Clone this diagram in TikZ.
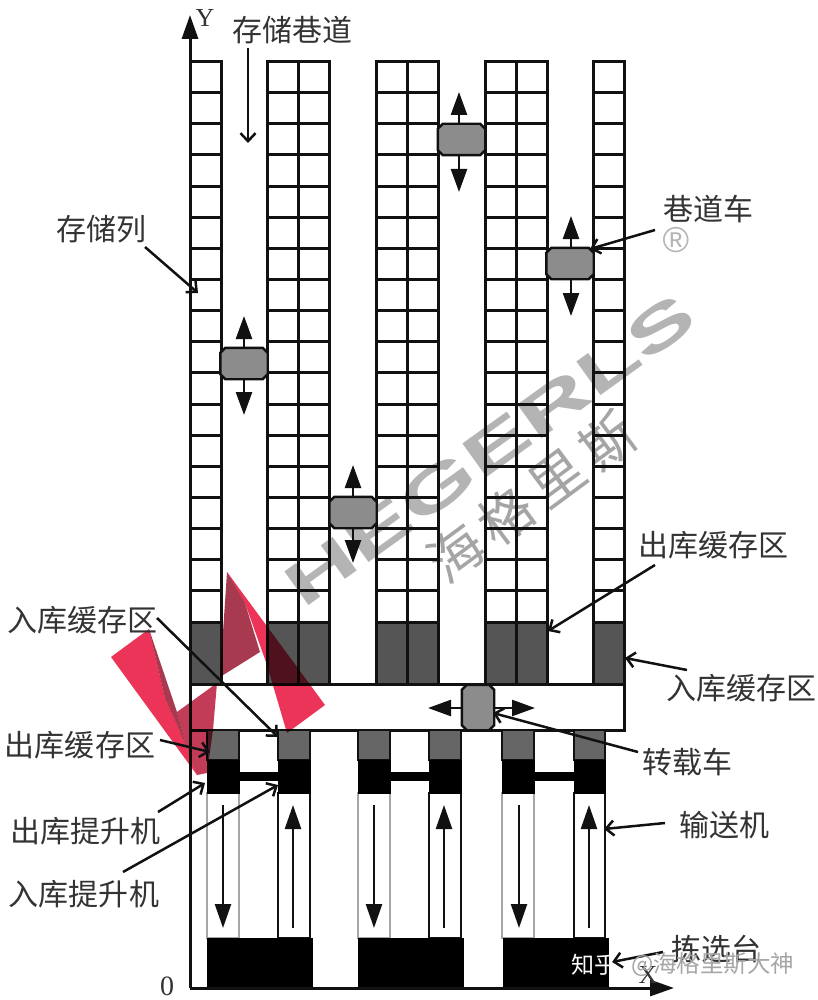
\documentclass[tikz,border=0pt]{standalone}
\usepackage{fontspec}
\usepackage{graphicx}
\usetikzlibrary{arrows.meta,calc}
\setmainfont{Liberation Serif}
\newfontfamily\cjk{Noto Sans CJK SC}
\newfontfamily\wmfont{Liberation Sans}
\definecolor{ink}{HTML}{111111}
\definecolor{txt}{HTML}{333333}
\definecolor{darkbuf}{HTML}{555555}
\definecolor{midbuf}{HTML}{666666}
\definecolor{carfill}{HTML}{8C8C8C}
\definecolor{wm}{HTML}{B4B4B4}
\definecolor{logoa}{HTML}{EC3358}
\definecolor{logob}{HTML}{A83A50}
\definecolor{logoc}{HTML}{C23C58}
\tikzset{
  cell/.style={draw=ink,line width=3pt},
  bufdark/.style={draw=ink,line width=3pt,fill=darkbuf},
  bufmid/.style={draw=ink,line width=2.4pt,fill=midbuf},
  lift/.style={fill=black,draw=black,line width=1pt},
  beltout/.style={draw=gray!70,line width=2.2pt},
  beltin/.style={draw=ink,line width=2.4pt},
  carbase/.style={rectangle,inner sep=0pt},
  hcar/.style={carbase,minimum width=47pt,minimum height=31pt},
  vcar/.style={carbase,minimum width=32pt,minimum height=45pt},
  carbody/.style={draw=ink,line width=2.4pt,fill=carfill},
  dirarrow/.style={draw=ink,line width=2.4pt,-{Triangle[length=23pt,width=16pt]}},
  flow/.style={draw=ink,line width=2.4pt,-{Triangle[length=24pt,width=16pt]}},
  leader/.style={draw=ink,line width=2.5pt,-{Straight Barb[length=8pt,width=15pt]}},
  lab/.style={font=\cjk\fontsize{30}{30}\selectfont,text=txt,inner sep=0pt},
  axislab/.style={font=\fontsize{26}{26}\selectfont,text=txt,inner sep=0pt},
  axisline/.style={draw=ink,line width=3pt},
  logolight/.style={fill=logoa},
  logodark/.style={fill=logob},
  logomid/.style={fill=logoc}
}
\begin{document}
\begin{tikzpicture}[x=1pt,y=-1pt]
\useasboundingbox (0,0) rectangle (818,1000);
\fill[white] (0,0) rectangle (818,1000);
% watermarks, under the line work
\node[rotate=35.7,text=wm,inner sep=0pt] (wmlatin) at (490,450) {\resizebox{488pt}{42pt}{\wmfont\bfseries HEGERLS}};
\node[rotate=36.5,text=wm!92!black,inner sep=0pt,font=\cjk\fontsize{54}{54}\selectfont] (wmcjk) at (532,497) {海\hspace{9pt}格\hspace{9pt}里\hspace{9pt}斯};
\node[text=wm,inner sep=0pt,font=\wmfont\fontsize{36}{36}\selectfont] (wmreg) at (676,240) {®};
% storage racks
\foreach \a/\b in {190/221,267/298,298/329,376/407,407/438,485/516,516/547,593/624}{
  \foreach \r in {0,...,17}{
    \draw[cell] (\a,{61.5+31.14*\r}) rectangle (\b,{61.5+31.14*(\r+1)});
  }
  \draw[bufdark] (\a,622) rectangle (\b,684);
}
% transfer aisle
\draw[cell] (190,684) rectangle (624,730);
% conveyors
\foreach \a/\b in {207/239,358/390,502/534}{\draw[beltout] (\a,793) rectangle (\b,938);}
\foreach \a/\b in {278/310,429/461,574/605}{\draw[beltin] (\a,793) rectangle (\b,938);}
% buffers, lifts, links
\foreach \a/\b in {207/239,278/310,358/390,429/461,502/534,574/605}{
  \draw[bufmid] (\a,730) rectangle (\b,760);
  \draw[lift] (\a,760) rectangle (\b,793);
}
\fill[black] (239,772) rectangle (278,781);
\fill[black] (390,772) rectangle (429,781);
\fill[black] (534,772) rectangle (574,781);
% pick stations
\draw[lift] (207,938) rectangle (312,988);
\draw[lift] (358,938) rectangle (463,988);
\draw[lift] (503,938) rectangle (608,988);
% flow arrows
\foreach \n/\x/\s/\e in {f1/223/805/928,f3/374/805/928,f5/519/805/928,f2/293/928/805,f4/444/928/805,f6/589/928/805}{
  \coordinate (\n s) at (\x,\s);
  \coordinate (\n e) at (\x,\e);
  \draw[flow] (\n s) -- (\n e);
}
% axes
\coordinate (origin) at (190,988);
\coordinate (ytip) at (190,15);
\coordinate (xtip) at (674,988);
\draw[axisline,-{Triangle[length=24pt,width=16pt]}] (origin) -- (ytip);
\draw[axisline,-{Triangle[length=24pt,width=16pt]}] (origin) -- (xtip);
\node[axislab] (ylab) at (205,18) {Y};
\node[axislab] (xlab) at (648,975) {X};
\node[axislab,font=\fontsize{28}{28}\selectfont] (olab) at (167,986) {0};
% shuttles
\node[hcar] (car1) at (244,363.5) {};
\node[hcar] (car2) at (353,512.5) {};
\node[hcar] (car3) at (461.5,139.5) {};
\node[hcar] (car4) at (570,263.5) {};
\node[vcar] (car5) at (478,707.5) {};
\foreach \c in {car1,car2,car3,car4,car5}{
  \draw[carbody] ($(\c.north west)+(5,0)$) -- ($(\c.north east)+(-5,0)$) -- ($(\c.north east)+(0,5)$)
    -- ($(\c.south east)+(0,-5)$) -- ($(\c.south east)+(-5,0)$) -- ($(\c.south west)+(5,0)$)
    -- ($(\c.south west)+(0,-5)$) -- ($(\c.north west)+(0,5)$) -- cycle;
}
\coordinate (c1u) at (244,316); \coordinate (c1d) at (244,415);
\coordinate (c2u) at (353,465); \coordinate (c2d) at (353,563);
\coordinate (c3u) at (459,92);  \coordinate (c3d) at (459,192);
\coordinate (c4u) at (571,216); \coordinate (c4d) at (571,316);
\coordinate (c5l) at (428,708); \coordinate (c5r) at (535,708);
\draw[dirarrow] (car1.north) -- (c1u);
\draw[dirarrow] (car1.south) -- (c1d);
\draw[dirarrow] (car2.north) -- (c2u);
\draw[dirarrow] (car2.south) -- (c2d);
\draw[dirarrow] (car3.north -| c3u) -- (c3u);
\draw[dirarrow] (car3.south -| c3d) -- (c3d);
\draw[dirarrow] (car4.north -| c4u) -- (c4u);
\draw[dirarrow] (car4.south -| c4d) -- (c4d);
\draw[dirarrow] (car5.west |- c5l) -- (c5l);
\draw[dirarrow] (car5.east |- c5r) -- (c5r);
% logo
\begin{scope}[blend mode=multiply]
\fill[logolight] (111,657) -- (149,629) -- (165,698) -- (186,745) -- (197,775) -- cycle;
\fill[logodark] (149,629) -- (177,712) -- (186,745) -- (165,698) -- cycle;
\fill[logomid] (177,712) -- (217,683) -- (213,730) -- (207,773) -- (197,775) -- (186,745) -- cycle;
\fill[logolight] (227,572) -- (325,705) -- (287,733) -- (267,665) -- (245,603) -- cycle;
\fill[logodark] (227,572) -- (245,603) -- (260,652) -- (220,677) -- cycle;
\end{scope}
% labels
\node[lab] (laisle) at (292,30) {存储巷道};
\node[lab] (lcol) at (101,229) {存储列};
\node[lab] (lshut) at (708,209) {巷道车};
\node[lab] (loutr) at (713,545) {出库缓存区};
\node[lab] (linr) at (741,688) {入库缓存区};
\node[lab] (ltrans) at (687,762) {转载车};
\node[lab] (lconv) at (724,825) {输送机};
\node[lab] (lpick) at (716,949) {拣选台};
\node[lab] (linl) at (82,620) {入库缓存区};
\node[lab] (loutl) at (80,745) {出库缓存区};
\node[lab] (loutlift) at (85,831) {出库提升机};
\node[lab] (linlift) at (84,894) {入库提升机};
% leader ends
\coordinate (a1s) at (248,48);  \coordinate (a1e) at (248,143);
\coordinate (a2s) at (145,247); \coordinate (a2e) at (198,293);
\coordinate (a3s) at (655,230); \coordinate (a3e) at (590,249);
\coordinate (a4s) at (655,565); \coordinate (a4e) at (548,631);
\coordinate (a5s) at (687,670); \coordinate (a5e) at (625,658);
\coordinate (a6s) at (638,752); \coordinate (a6e) at (493,713);
\coordinate (a7s) at (665,823); \coordinate (a7e) at (604,829);
\coordinate (a8s) at (663,952); \coordinate (a8e) at (612,962);
\coordinate (a9s) at (157,618); \coordinate (a9e) at (278,737);
\coordinate (a10s) at (160,740); \coordinate (a10e) at (210,752);
\coordinate (a11s) at (158,812); \coordinate (a11e) at (205,783);
\coordinate (a12s) at (123,872); \coordinate (a12e) at (278,785);
\foreach \i in {1,...,12}{\draw[leader] (a\i s) -- (a\i e);}
% platform watermark
\node[font=\cjk\fontsize{23}{24}\selectfont,text=white,inner sep=0pt] (zh) at (594,965) {知乎};
\node[font=\cjk\fontsize{23.5}{24}\selectfont,text=gray!70,inner sep=0pt,anchor=west] (zhname) at (631,965) {@海格里斯大神};
\end{tikzpicture}
\end{document}
